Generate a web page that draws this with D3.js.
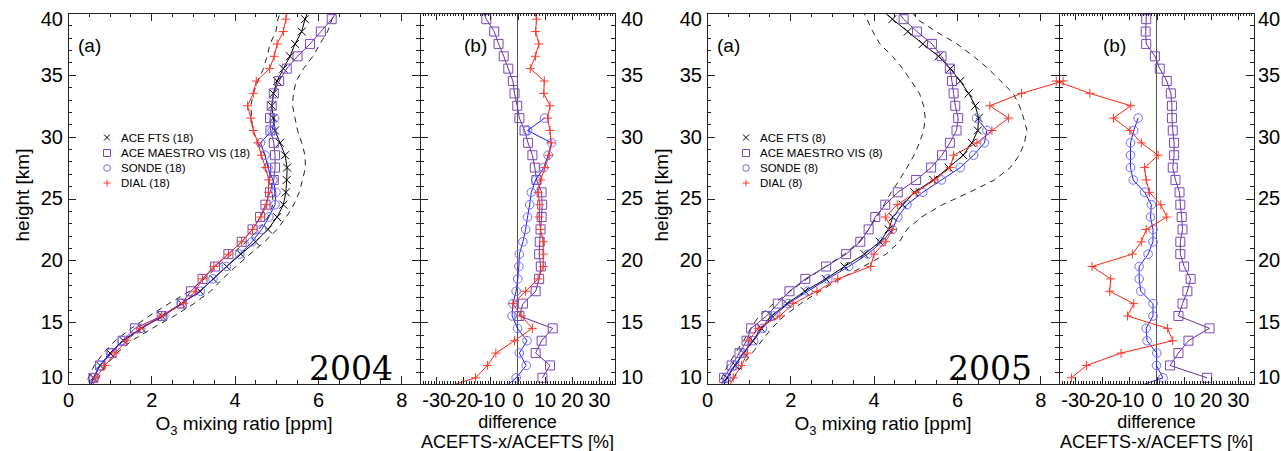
<!DOCTYPE html>
<html>
<head>
<meta charset="utf-8">
<script src="https://cdn.jsdelivr.net/npm/d3@7"></script>
<style>
  body { margin: 0; background: #fff; }
  svg { display: block; }
</style>
</head>
<body>
<svg id="chart" width="1281" height="451"></svg>
<script>
// ---- data (heights in km, ozone in ppm, differences in %) ----
const heights = [9.5, 10.5, 11.5, 12.5, 13.5, 14.5, 15.5, 16.5, 17.5, 18.5, 19.5, 20.5, 21.5, 22.5, 23.5, 24.5,
                 25.5, 26.5, 27.5, 28.5, 29.5, 30.5, 31.5, 32.5, 33.5, 34.5, 35.5, 36.5, 37.5, 38.5, 39.5, 40.5];
const heightTicks = [10, 15, 20, 25, 30, 35, 40];
const ppmTicks = [0, 2, 4, 6, 8];
const diffTicks = [-30, -20, -10, 0, 10, 20, 30];
const seriesNames = ["ACE FTS", "ACE MAESTRO VIS", "SONDE", "DIAL"];
const years = ["2004", "2005"];
const counts = [18, 8];

// 2004
const fts2004 = [0.50, 0.61, 0.77, 1.01, 1.33, 1.77, 2.25, 2.72, 3.17, 3.49, 3.81, 4.15, 4.50, 4.80, 5.02, 5.17,
                 5.23, 5.25, 5.26, 5.21, 5.09, 4.97, 4.93, 4.89, 4.93, 5.02, 5.17, 5.33, 5.45, 5.61, 5.69, 5.80];
const ftsLow2004 = [0.40, 0.49, 0.63, 0.85, 1.13, 1.52, 1.95, 2.42, 2.92, 3.27, 3.59, 3.93, 4.28, 4.58, 4.80, 4.92,
                    4.91, 4.87, 4.82, 4.73, 4.57, 4.43, 4.41, 4.39, 4.45, 4.56, 4.69, 4.78, 4.85, 4.99, 5.04, 5.14];
const ftsHigh2004 = [0.60, 0.73, 0.91, 1.17, 1.53, 2.02, 2.55, 3.02, 3.42, 3.71, 4.03, 4.37, 4.72, 5.02, 5.24, 5.42,
                     5.55, 5.63, 5.70, 5.69, 5.61, 5.51, 5.45, 5.39, 5.41, 5.48, 5.65, 5.88, 6.05, 6.23, 6.34, 6.46];
const maestro2004 = [0.50, 0.61, 0.77, 1.05, 1.31, 1.61, 2.25, 2.73, 2.95, 3.23, 3.53, 3.85, 4.17, 4.43, 4.61, 4.74,
                     4.85, 4.94, 4.97, 4.97, 4.94, 4.86, 4.85, 4.89, 4.94, 5.07, 5.25, 5.51, 5.81, 6.07, 6.33, 6.55];
const sonde2004 = [0.52, 0.62, 0.76, 1.02, 1.30, 1.75, 2.30, 2.72, 3.18, 3.48, 3.80, 4.12, 4.42, 4.65, 4.82, 4.97,
                   4.99, 4.92, 4.80, 4.73, 4.62, 4.90, 4.96, null, null, null, null, null, null, null, null, null];
const dial2004 = [0.55, 0.67, 0.89, 1.13, 1.41, 1.73, 2.25, 2.77, 3.05, 3.23, 3.50, 3.85, 4.17, 4.43, 4.63, 4.77,
                  4.81, 4.82, 4.74, 4.64, 4.56, 4.45, 4.39, 4.31, 4.45, 4.52, 4.84, 4.95, 5.02, 5.17, 5.23, 5.30];
const maestroDiff2004 = [null, 9.2, 12, 6.7, 8.9, 13, 0.7, 2, 6.7, 8, 8.6, 8, 8.2, 8.5, 8.9, 9.1,
                         8.9, 7, 6.4, 5.5, 3.9, 2.6, 0.7, -0.1, -1.1, -1.7, -3.4, -5.1, -7, -8.6, -11.5, -13.5];
const sondeDiff2004 = [-6, -0.5, 3.2, 0.7, 3.5, 0, -2, -1.7, -0.5, 0.1, 0.5, 0.7, 2, 3, 3.7, 4.5,
                       5.1, 6.7, 9.7, 11.3, 12.6, 3.7, 10, null, null, null, null, null, null, null, null, null];
const dialDiff2004 = [-30, -15.5, -11.1, -8, -1.1, 5.5, 1.4, -1.7, 3, 7.6, 9.5, 9.5, 9.5, 8.5, 8, 8.2,
                      7.6, 8.6, 10.1, 11.7, 12.4, 12, 11.1, 12, 9.7, 9.9, 4.7, 6.6, 7.9, 6.7, 7, 6];

// 2005
const fts2005 = [0.35, 0.48, 0.68, 0.88, 1.10, 1.30, 1.55, 1.92, 2.35, 2.85, 3.30, 3.78, 4.15, 4.36, 4.46, 4.70,
                 4.98, 5.43, 5.80, 6.15, 6.36, 6.50, 6.52, 6.44, 6.28, 6.08, 5.84, 5.56, 5.18, 4.82, 4.45, 4.10];
const ftsLow2005 = [0.25, 0.35, 0.50, 0.68, 0.88, 1.05, 1.25, 1.60, 2.00, 2.40, 2.85, 3.30, 3.65, 3.88, 4.08, 4.25,
                    4.42, 4.62, 4.80, 4.97, 5.10, 5.20, 5.24, 5.20, 5.10, 4.90, 4.70, 4.45, 4.15, 3.98, 3.84, 3.70];
const ftsHigh2005 = [0.55, 0.65, 0.85, 1.08, 1.32, 1.55, 1.85, 2.25, 2.70, 3.20, 3.75, 4.30, 4.62, 4.80, 5.15, 5.65,
                     6.30, 6.90, 7.28, 7.50, 7.62, 7.68, 7.60, 7.50, 7.35, 7.05, 6.75, 6.40, 6.00, 5.50, 5.04, 4.85];
const maestro2005 = [0.30, 0.41, 0.59, 0.78, 0.95, 1.06, 1.43, 1.70, 1.98, 2.36, 2.86, 3.34, 3.68, 3.88, 4.04, 4.28,
                     4.58, 5.02, 5.38, 5.64, 5.83, 5.99, 6.03, 5.96, 5.92, 5.88, 5.83, 5.63, 5.40, 5.04, 4.72, 4.50];
const sonde2005 = [0.35, 0.47, 0.66, 0.87, 1.12, 1.33, 1.60, 1.95, 2.42, 2.90, 3.40, 3.86, 4.20, 4.45, 4.58, 4.80,
                   5.18, 5.63, 6.08, 6.40, 6.66, 6.72, 6.47, null, null, null, null, null, null, null, null, null];
const dial2005 = [0.50, 0.63, 0.83, 0.97, 0.99, 1.23, 1.75, 2.07, 2.64, 3.14, 3.93, 4.01, 4.28, 4.46, 4.28, 4.57,
                  5.02, 5.46, 5.84, 5.92, 6.48, 6.84, 7.24, 6.79, 7.55, 8.55, null, null, null, null, null, null];
const maestroDiff2005 = [null, 18.7, 5, 8.1, 11.8, 19.6, 8.1, 9.6, 11.4, 12.6, 10.2, 8.8, 8.8, 9.6, 9.3, 8.8,
                         8.5, 7, 6, 6.5, 6.5, 6, 5.7, 5.7, 5.3, 3.8, 1.2, -0.6, -3.8, -4, -3.8, -3.8];
const sondeDiff2005 = [-11, 2.4, 0, 0.1, -3.5, -3.8, -1.3, -1.3, -5.8, -6.4, -6.4, -3.1, -1.3, -1.3, -2.2, -1.9,
                       -4.4, -8.6, -9.6, -9.6, -9.6, -8.4, -6.8, null, null, null, null, null, null, null, null, null];
const dialDiff2005 = [null, -31.4, -25.8, -13.1, 6, 4.1, -10.7, -8.4, -17.3, -16.9, -23.8, -8.9, -5.6, -3.8, 3.8, 1.6,
                      -2.6, -3.8, -4.4, 0.6, -5.6, -9.8, -15.9, -9.5, -24.6, -37, null, null, null, null, null, null];

// ---- look ----
const colFts = "#000000";
const colMaestro = "#6a2ca6", colMaestroMk = "#7b48bb";
const colSonde = "#1c1cff", colSondeMk = "#6e6eff";
const colDial = "#ff2410", colDialMk = "#ff3a28";
const fontSans = "'Liberation Sans', Arial, Helvetica, sans-serif";

const svg = d3.select("#chart");
const plotTop = 13, plotH = 371;
const wA = 352, wB = 195;

// marker paths
function markerPath(kind, s) {
  if (kind === "x") return `M${-s},${-s}L${s},${s}M${-s},${s}L${s},${-s}`;
  if (kind === "plus") return `M${-s},0L${s},0M0,${-s}L0,${s}`;
  return `M${-s},${-s}H${s}V${s}H${-s}Z`;
}

function drawMarks(g, pts, kind, color, s) {
  pts = pts.filter(d => d.v != null);
  if (kind === "circle") {
    g.selectAll(null).data(pts).enter().append("circle")
      .attr("cx", d => d.x).attr("cy", d => d.y).attr("r", s)
      .attr("fill", "none").attr("stroke", color).attr("stroke-width", 1);
  } else {
    g.selectAll(null).data(pts).enter().append("path")
      .attr("transform", d => `translate(${d.x},${d.y})`)
      .attr("d", markerPath(kind, s))
      .attr("fill", "none").attr("stroke", color).attr("stroke-width", 1);
  }
}

function series(g, x, y, vals, lineCol, opts) {
  const pts = heights.map((h, i) => ({ v: vals[i], x: vals[i] == null ? 0 : x(vals[i]), y: y(h) }));
  const line = d3.line().defined(d => d.v != null).x(d => d.x).y(d => d.y);
  g.append("path").datum(pts).attr("d", line)
    .attr("fill", "none").attr("stroke", lineCol).attr("stroke-width", 1)
    .attr("stroke-dasharray", opts.dash || null);
  if (opts.marker) drawMarks(g, pts, opts.marker, opts.markCol, opts.size);
}

function styleText(sel, size) {
  sel.selectAll("text").attr("font-family", fontSans).attr("font-size", size).attr("fill", "#000");
}

function frameAxes(g, x, y, w, xMajor, xMinor, majLen, minLen, opts) {
  const fmt = d => String(d);
  const clean = s => s.select(".domain").remove();
  // bottom
  g.append("g").attr("transform", `translate(0,${plotH})`)
    .call(d3.axisBottom(x).tickValues(xMinor).tickSize(-minLen).tickFormat("")).call(clean);
  const xb = g.append("g").attr("transform", `translate(0,${plotH})`)
    .call(d3.axisBottom(x).tickValues(xMajor).tickSize(-majLen).tickPadding(9).tickFormat(fmt)).call(clean);
  styleText(xb, 20);
  // top
  g.append("g").call(d3.axisTop(x).tickValues(xMinor).tickSize(-minLen).tickFormat("")).call(clean);
  g.append("g").call(d3.axisTop(x).tickValues(xMajor).tickSize(-majLen).tickFormat("")).call(clean);
  // left / right
  const yMinor = d3.range(10, 41, 1);
  g.append("g").call(d3.axisLeft(y).tickValues(yMinor).tickSize(-4).tickFormat("")).call(clean);
  const yl = g.append("g").call(d3.axisLeft(y).tickValues(heightTicks).tickSize(-8).tickPadding(5)
    .tickFormat(opts.leftLabels ? fmt : "")).call(clean);
  g.append("g").attr("transform", `translate(${w},0)`)
    .call(d3.axisRight(y).tickValues(yMinor).tickSize(-4).tickFormat("")).call(clean);
  const yr = g.append("g").attr("transform", `translate(${w},0)`)
    .call(d3.axisRight(y).tickValues(heightTicks).tickSize(-8).tickPadding(opts.rightPad || 6)
    .tickFormat(opts.rightLabels ? fmt : "")).call(clean);
  [yl, yr].forEach(a => {
    styleText(a, 20);
    a.selectAll(".tick text").attr("transform", d => d === 40 ? "translate(0,6)" : d === 10 ? "translate(0,-7)" : null);
  });
  g.selectAll(".tick line").attr("stroke", "#222").attr("shape-rendering", "crispEdges");
  g.append("rect").attr("x", 0).attr("y", 0).attr("width", w).attr("height", plotH)
    .attr("fill", "none").attr("stroke", "#222").attr("stroke-width", 1).attr("shape-rendering", "crispEdges");
}

function drawYear(left, k, d) {
  const y = d3.scaleLinear().domain([10, 40]).range([plotH, 0]);

  // ---- panel (a) ----
  const xa = d3.scaleLinear().domain([0, 8.45]).range([0, wA]);
  const ga = svg.append("g").attr("transform", `translate(${left},${plotTop})`);
  const clipA = `clipA${k}`;
  ga.append("clipPath").attr("id", clipA).append("rect")
    .attr("x", -30).attr("y", 0).attr("width", wA + 60).attr("height", plotH);
  const pa = ga.append("g").attr("clip-path", `url(#${clipA})`);
  series(pa, xa, y, d.low, "#222", { dash: "6,5" });
  series(pa, xa, y, d.high, "#222", { dash: "6,5" });
  series(pa, xa, y, d.fts, colFts, { marker: "x", markCol: colFts, size: 4 });
  series(pa, xa, y, d.maestro, colMaestro, { marker: "square", markCol: colMaestroMk, size: 4.5 });
  series(pa, xa, y, d.sonde, colSonde, { marker: "circle", markCol: colSondeMk, size: 4.3 });
  series(pa, xa, y, d.dial, colDial, { marker: "plus", markCol: colDialMk, size: 4.5 });
  frameAxes(ga, xa, y, wA, ppmTicks, d3.range(0, 8.45, 0.5), 8, 4, { leftLabels: true, rightLabels: false });

  // axis titles
  const ta = ga.append("text").attr("x", wA / 2).attr("y", 417).attr("text-anchor", "middle")
    .attr("font-family", fontSans).attr("font-size", 19);
  ta.append("tspan").text("O");
  ta.append("tspan").attr("font-size", 13).attr("dy", 5).text("3");
  ta.append("tspan").attr("dy", -5).text(" mixing ratio [ppm]");
  ga.append("text").attr("transform", `translate(${-39},${182}) rotate(-90)`)
    .attr("text-anchor", "middle").attr("font-family", fontSans).attr("font-size", 19).text("height [km]");
  ga.append("text").attr("x", 10).attr("y", 39).attr("font-family", fontSans).attr("font-size", 19).text("(a)");
  ga.append("text").attr("x", wA - 27).attr("y", 367).attr("text-anchor", "end")
    .attr("font-family", "'DejaVu Serif', serif").attr("font-size", 33).text(years[k]);

  // legend
  const kinds = [["x", colFts, 3], ["square", colMaestroMk, 3.5], ["circle", colSondeMk, 3.3], ["plus", colDialMk, 3.5]];
  const rowY = [124.5, 140, 155, 170];
  seriesNames.forEach((name, i) => {
    const lg = ga.append("g");
    drawMarks(lg, [{ v: 1, x: 39, y: rowY[i] }], kinds[i][0], kinds[i][1], kinds[i][2]);
    lg.append("text").attr("x", 53).attr("y", rowY[i]).attr("dy", "0.35em")
      .attr("font-family", fontSans).attr("font-size", 11.5).text(`${name} (${counts[k]})`);
  });

  // ---- panel (b) ----
  const xb = d3.scaleLinear().domain([-36, 36]).range([0, wB]);
  const gb = svg.append("g").attr("transform", `translate(${left + wA},${plotTop})`);
  const clipB = `clipB${k}`;
  gb.append("clipPath").attr("id", clipB).append("rect")
    .attr("x", -30).attr("y", 0).attr("width", wB + 60).attr("height", plotH);
  gb.append("line").attr("x1", xb(0)).attr("x2", xb(0)).attr("y1", 0).attr("y2", plotH)
    .attr("stroke", "#555").attr("stroke-width", 1).attr("shape-rendering", "crispEdges");
  const pb = gb.append("g").attr("clip-path", `url(#${clipB})`);
  series(pb, xb, y, d.dMaestro, colMaestro, { marker: "square", markCol: colMaestroMk, size: 4.5 });
  series(pb, xb, y, d.dSonde, colSonde, { marker: "circle", markCol: colSondeMk, size: 4.3 });
  series(pb, xb, y, d.dDial, colDial, { marker: "plus", markCol: colDialMk, size: 4.5 });
  frameAxes(gb, xb, y, wB, diffTicks, d3.range(-36, 37, 1), 7, 3,
    { leftLabels: false, rightLabels: true, rightPad: k === 0 ? 6 : 4 });

  gb.append("text").attr("x", 44).attr("y", 39).attr("font-family", fontSans).attr("font-size", 19).text("(b)");
  gb.append("text").attr("x", wB / 2).attr("y", 414.5).attr("text-anchor", "middle")
    .attr("font-family", fontSans).attr("font-size", 18).text("difference");
  gb.append("text").attr("x", wB / 2).attr("y", 434.5).attr("text-anchor", "middle")
    .attr("font-family", fontSans).attr("font-size", 18).text("ACEFTS-x/ACEFTS [%]");
}

drawYear(68, 0, {
  fts: fts2004, low: ftsLow2004, high: ftsHigh2004, maestro: maestro2004, sonde: sonde2004, dial: dial2004,
  dMaestro: maestroDiff2004, dSonde: sondeDiff2004, dDial: dialDiff2004
});
drawYear(707, 1, {
  fts: fts2005, low: ftsLow2005, high: ftsHigh2005, maestro: maestro2005, sonde: sonde2005, dial: dial2005,
  dMaestro: maestroDiff2005, dSonde: sondeDiff2005, dDial: dialDiff2005
});
</script>
</body>
</html>
